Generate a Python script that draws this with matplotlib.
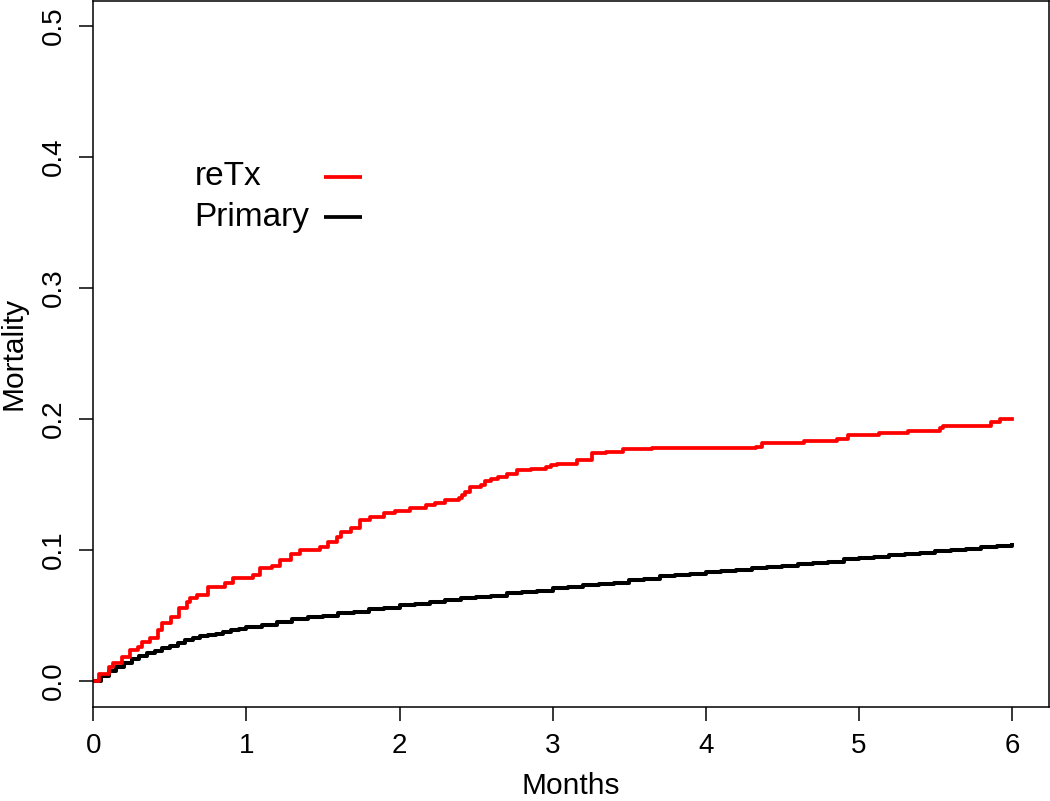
import matplotlib
matplotlib.use("Agg")
import matplotlib.pyplot as plt

# reTx cumulative mortality (step times in months, value after step)
retx_time = [0, 0.04, 0.10, 0.13, 0.19, 0.24, 0.29, 0.32, 0.37, 0.42,
             0.45, 0.51, 0.56, 0.61, 0.63, 0.68, 0.75, 0.86, 0.91, 1.04,
             1.09, 1.17, 1.22, 1.29, 1.35, 1.48, 1.53, 1.59, 1.62, 1.68,
             1.74, 1.81, 1.90, 1.97, 2.07, 2.17, 2.23, 2.30, 2.39, 2.41,
             2.43, 2.46, 2.53, 2.56, 2.60, 2.64, 2.70, 2.77, 2.86, 2.96,
             2.99, 3.03, 3.16, 3.26, 3.35, 3.46, 3.65, 4.33, 4.37, 4.64,
             4.86, 4.93, 5.13, 5.32, 5.53, 5.55, 5.86, 5.92, 6.00]
retx_mort = [0, 0.005, 0.011, 0.014, 0.018, 0.024, 0.026, 0.030, 0.033, 0.039,
             0.044, 0.049, 0.056, 0.060, 0.063, 0.066, 0.072, 0.075, 0.079, 0.081,
             0.086, 0.088, 0.092, 0.097, 0.100, 0.102, 0.106, 0.110, 0.114, 0.117,
             0.123, 0.125, 0.128, 0.130, 0.132, 0.134, 0.136, 0.138, 0.140, 0.142,
             0.144, 0.148, 0.150, 0.153, 0.154, 0.156, 0.158, 0.161, 0.162, 0.163,
             0.165, 0.166, 0.169, 0.174, 0.175, 0.177, 0.178, 0.179, 0.182, 0.183,
             0.185, 0.188, 0.189, 0.191, 0.193, 0.195, 0.198, 0.200, 0.200]

# Primary cumulative mortality
prim_time = [0, 0.05, 0.10, 0.15, 0.20, 0.25, 0.30, 0.35, 0.40, 0.45,
             0.50, 0.55, 0.60, 0.65, 0.70, 0.75, 0.80, 0.85, 0.90, 0.95,
             1.0, 1.1, 1.2, 1.3, 1.4, 1.5, 1.6, 1.7, 1.8, 1.9,
             2.0, 2.1, 2.2, 2.3, 2.4, 2.5, 2.6, 2.7, 2.8, 2.9,
             3.0, 3.1, 3.2, 3.3, 3.4, 3.5, 3.6, 3.7, 3.8, 3.9,
             4.0, 4.1, 4.2, 4.3, 4.4, 4.5, 4.6, 4.7, 4.8, 4.9,
             5.0, 5.1, 5.2, 5.3, 5.4, 5.5, 5.6, 5.7, 5.8, 5.9, 6.0]
prim_mort = [0, 0.004, 0.008, 0.011, 0.014, 0.0165, 0.019, 0.021, 0.023, 0.025,
             0.027, 0.029, 0.031, 0.0325, 0.034, 0.035, 0.036, 0.0375, 0.039, 0.040,
             0.041, 0.043, 0.045, 0.047, 0.049, 0.050, 0.052, 0.053, 0.055, 0.056,
             0.058, 0.059, 0.060, 0.062, 0.063, 0.064, 0.065, 0.067, 0.068, 0.069,
             0.071, 0.072, 0.073, 0.074, 0.075, 0.077, 0.078, 0.080, 0.081, 0.082,
             0.083, 0.084, 0.085, 0.086, 0.087, 0.088, 0.089, 0.090, 0.091, 0.093,
             0.094, 0.095, 0.096, 0.097, 0.098, 0.099, 0.100, 0.101, 0.102, 0.103, 0.104]

x_ticks = [0, 1, 2, 3, 4, 5, 6]
y_ticks = [0.0, 0.1, 0.2, 0.3, 0.4, 0.5]
y_tick_labels = ["0.0", "0.1", "0.2", "0.3", "0.4", "0.5"]
legend_labels = ["reTx", "Primary"]
colors = ["#ff0000", "#000000"]

plt.rcParams['font.family'] = ['Liberation Sans', 'DejaVu Sans']

W, H = 1050, 801
fig = plt.figure(figsize=(W / 100, H / 100), dpi=100)
ax = fig.add_axes([93.3 / W, (H - 707) / H, (1049 - 93.3) / W, (707 - 0.5) / H])

ax.plot(prim_time, prim_mort, drawstyle='steps-post', color=colors[1], lw=2.9)
ax.plot(retx_time, retx_mort, drawstyle='steps-post', color=colors[0], lw=2.7)

ax.set_xlim(0, 6.242)
ax.set_ylim(-0.01985, 0.5195)

ax.set_xticks(x_ticks)
ax.set_xticklabels([str(t) for t in x_ticks])
ax.set_yticks(y_ticks)
ax.set_yticklabels(y_tick_labels, rotation=90, va='center')

for s in ax.spines.values():
    s.set_linewidth(1.1)
ax.tick_params(axis='both', length=10, width=1.1, labelsize=20, pad=9)

ax.set_xlabel("Months", fontsize=21.5, labelpad=9)
ax.set_ylabel("Mortality", fontsize=21.5, labelpad=10)

# legend (text left, line right)
leg_y = [0.385, 0.354]
for lab, c, yy in zip(legend_labels, colors, leg_y):
    ax.text(0.66, yy, lab, fontsize=24, va='center', ha='left')
    ax.plot([1.507, 1.755], [yy, yy], color=c, lw=2.7,
            solid_capstyle='butt')

fig.savefig("out.png", dpi=100)
